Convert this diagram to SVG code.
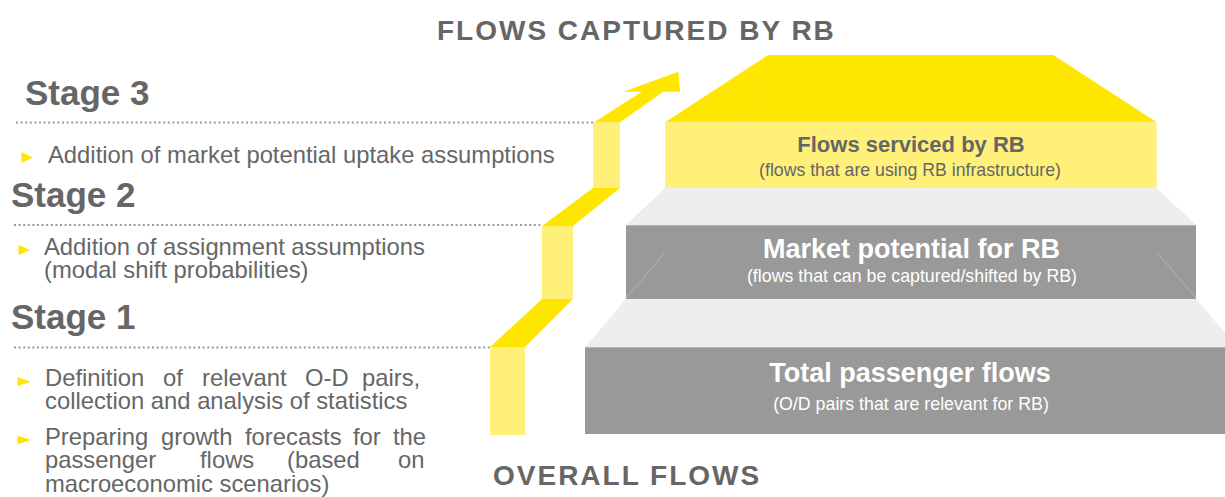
<svg xmlns="http://www.w3.org/2000/svg" width="1225" height="497" viewBox="0 0 1225 497">
  <defs>
    <style>
      .title { font-family: "Liberation Sans", Arial, sans-serif; font-weight: bold; font-size: 28px; fill: #666666; letter-spacing: 2px; }
      .stage { font-family: "Liberation Sans", Arial, sans-serif; font-weight: bold; font-size: 35px; fill: #666666; }
      .body { font-family: "Liberation Sans", Arial, sans-serif; font-size: 23.8px; fill: #666666; }
      .bullet { fill: #FFE600; }
      .dots { stroke: #9a9a9a; stroke-width: 2; stroke-dasharray: 2 2.6; fill: none; }
      .dark { fill: #FFE600; }
      .light { fill: #FFF07A; }
      .step { fill: #EEEEEE; }
      .box { fill: #999999; }
      .edge { stroke: #b4b4b4; stroke-width: 1; fill: none; }
      .h-dark { font-family: "Liberation Sans", Arial, sans-serif; font-weight: bold; font-size: 22px; fill: #666666; text-anchor: middle; }
      .s-dark { font-family: "Liberation Sans", Arial, sans-serif; font-size: 17.7px; fill: #666666; text-anchor: middle; }
      .h-white { font-family: "Liberation Sans", Arial, sans-serif; font-weight: bold; font-size: 27px; fill: #ffffff; text-anchor: middle; }
      .s-white { font-family: "Liberation Sans", Arial, sans-serif; font-size: 17.8px; fill: #ffffff; text-anchor: middle; }
    </style>
  </defs>
  <rect width="1225" height="497" fill="#ffffff"/>

  <g id="title-top">
    <text class="title" x="437" y="40">FLOWS CAPTURED BY RB</text>
  </g>
  <g id="title-bottom">
    <text class="title" x="493" y="485">OVERALL FLOWS</text>
  </g>

  <g id="connectors">
    <line class="dots" x1="16" y1="122.5" x2="593" y2="122.5"/>
    <line class="dots" x1="14" y1="225" x2="542" y2="225"/>
    <line class="dots" x1="14" y1="347.5" x2="490" y2="347.5"/>
  </g>

  <g id="staircase-arrow">
    <rect class="light" x="490" y="347" width="35" height="88"/>
    <polygon class="dark" points="490,347 525,347 573,299 542,299"/>
    <rect class="light" x="542" y="226" width="31" height="73"/>
    <polygon class="dark" points="542,226 573,226 620,188 593,188"/>
    <rect class="light" x="593" y="122.3" width="27" height="65.7"/>
    <polygon class="dark" points="594,122.3 641.7,91.7 623.3,91.7 678.3,71.7 680,91.7 663.3,91.7 620,122.3"/>
  </g>

  <g id="tier-serviced">
    <polygon class="dark" points="665,122.3 768.3,55 1053.3,55 1156.7,122.3"/>
    <line x1="735" y1="122" x2="768" y2="91.7" stroke="#FFF07A" stroke-width="0.8" opacity="0.6"/>
    <rect class="light" x="665" y="122.3" width="491.7" height="65.7"/>
    <text class="h-dark" x="911" y="152">Flows serviced by RB</text>
    <text class="s-dark" x="910" y="175.5">(flows that are using RB infrastructure)</text>
  </g>

  <g id="tier-market">
    <polygon class="step" points="665,188 1156.7,188 1196,225 626,225"/>
    <rect class="box" x="626" y="225" width="570" height="74"/>
    <line class="edge" x1="626" y1="225.5" x2="1196" y2="225.5"/>
    <line class="edge" x1="626" y1="298" x2="665" y2="252.7"/>
    <line class="edge" x1="1157" y1="252.7" x2="1196" y2="298"/>
    <text class="h-white" x="911.5" y="258">Market potential for RB</text>
    <text class="s-white" x="912" y="281.5">(flows that can be captured/shifted by RB)</text>
  </g>

  <g id="tier-total">
    <polygon class="step" points="626,299 1196,299 1237,347 585,347"/>
    <rect class="box" x="585" y="347" width="652" height="87"/>
    <line class="edge" x1="585" y1="347.5" x2="1237" y2="347.5"/>
    <text class="h-white" x="910" y="382">Total passenger flows</text>
    <text class="s-white" x="911" y="410">(O/D pairs that are relevant for RB)</text>
  </g>

  <g id="stage3">
    <text class="stage" x="25" y="104.5">Stage 3</text>
    <polygon class="bullet" points="21.5,152 33,157.5 21.5,163"/>
    <text class="body" x="48" y="163.3">Addition of market potential uptake assumptions</text>
  </g>

  <g id="stage2">
    <text class="stage" x="11" y="207">Stage 2</text>
    <polygon class="bullet" points="18.5,245 30,250 18.5,255"/>
    <text class="body" x="44" y="255">Addition of assignment assumptions</text>
    <text class="body" x="44" y="278.3">(modal shift probabilities)</text>
  </g>

  <g id="stage1">
    <text class="stage" x="11" y="328.5">Stage 1</text>
    <polygon class="bullet" points="17.5,377.3 30.5,381.7 17.5,386"/>
    <text class="body" y="386"><tspan x="45">Definition</tspan><tspan x="163">of</tspan><tspan x="202">relevant</tspan><tspan x="305">O-D</tspan><tspan x="362">pairs,</tspan></text>
    <text class="body" x="45" y="409.3">collection and analysis of statistics</text>
    <polygon class="bullet" points="17.5,435.6 30.5,440 17.5,444.4"/>
    <text class="body" y="445"><tspan x="45">Preparing</tspan><tspan x="161">growth</tspan><tspan x="245">forecasts</tspan><tspan x="353">for</tspan><tspan x="393">the</tspan></text>
    <text class="body" y="468.3"><tspan x="45">passenger</tspan><tspan x="200">flows</tspan><tspan x="287">(based</tspan><tspan x="398">on</tspan></text>
    <text class="body" x="45" y="491.7">macroeconomic scenarios)</text>
  </g>
</svg>
